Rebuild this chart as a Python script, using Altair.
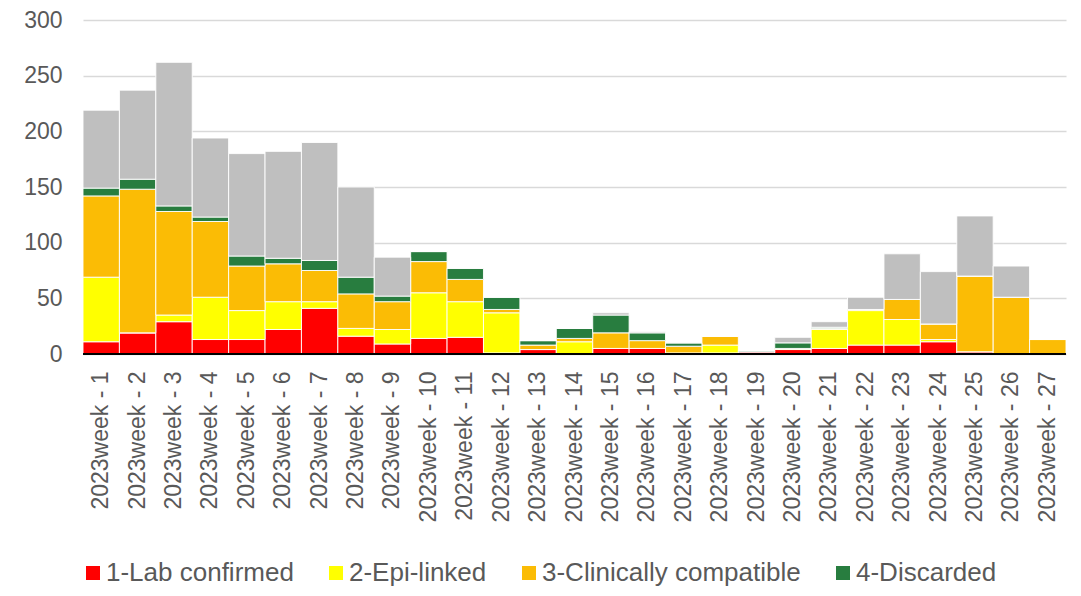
import altair as alt
import pandas as pd

weeks = [f"2023week - {i}" for i in range(1, 28)]
series = ["1-Lab confirmed", "2-Epi-linked", "3-Clinically compatible", "4-Discarded", "5-Pending"]
colors = ["#FF0000", "#FFFF00", "#FBBC05", "#287D3F", "#BFBFBF"]

red    = [11, 19, 29, 13, 13, 22, 41, 16, 9, 14, 15, 1, 4, 0, 5, 5, 0, 1, 2, 4, 5, 8, 8, 11, 2, 0, 0]
yellow = [58, 0, 6, 38, 26, 25, 6, 7, 13, 41, 32, 36, 0, 11, 0, 0, 1, 7, 0, 1, 17, 31, 23, 2, 0, 0, 0]
orange = [73, 129, 93, 68, 40, 34, 28, 31, 25, 28, 20, 3, 4, 3, 14, 7, 6, 8, 0, 0, 1, 1, 18, 14, 68, 51, 13]
green  = [7, 9, 5, 4, 9, 5, 9, 15, 5, 9, 10, 11, 4, 9, 16, 7, 3, 0, 1, 5, 1, 0, 0, 0, 0, 0, 0]
gray   = [70, 80, 129, 71, 92, 96, 106, 81, 35, 0, 0, 0, 0, 0, 2, 1, 0, 0, 0, 5, 5, 11, 41, 47, 54, 28, 0]

rows = []
for si, (name, vals) in enumerate(zip(series, [red, yellow, orange, green, gray])):
    for w, v in zip(weeks, vals):
        rows.append({"week": w, "series": name, "order": si, "value": v})
df = pd.DataFrame(rows)

FONT = "Liberation Sans"

bars = alt.Chart(df).mark_bar(stroke="white", strokeWidth=1, strokeOpacity=0.9).encode(
    x=alt.X("week:N", sort=weeks, title=None,
            scale=alt.Scale(paddingInner=0, paddingOuter=0),
            axis=alt.Axis(labelAngle=-90, labelFontSize=23, labelColor="#595959",
                          labelFont=FONT, ticks=False, domain=False, labelPadding=17,
                          grid=False)),
    y=alt.Y("value:Q", stack="zero", title=None,
            scale=alt.Scale(domain=[0, 300], nice=False),
            axis=alt.Axis(values=[0, 50, 100, 150, 200, 250, 300], labelFontSize=23,
                          labelColor="#595959", labelFont=FONT, ticks=False, domain=False,
                          labelPadding=21, gridColor="#D9D9D9", gridWidth=1.3)),
    color=alt.Color("series:N", sort=series,
                    scale=alt.Scale(domain=series, range=colors),
                    legend=alt.Legend(values=series[:4], title=None, orient="none",
                                      direction="horizontal", legendX=-3, legendY=540,
                                      symbolType="square", symbolSize=196,
                                      symbolStrokeWidth=0, symbolOpacity=1,
                                      labelFontSize=26, labelFont=FONT, labelLimit=0,
                                      labelColor="#595959", labelOffset=0,
                                      columnPadding=29, padding=0)),
    order=alt.Order("order:Q", sort="ascending"),
)

zero = alt.Chart(pd.DataFrame({"y": [0]})).mark_rule(color="black", strokeWidth=2).encode(
    y="y:Q"
)

chart = alt.layer(bars, zero).properties(
    width=983, height=334,
    background="white",
    autosize=alt.AutoSizeParams(type="none"),
    padding={"left": 75, "top": 12, "right": 7, "bottom": 234},
).configure_view(stroke=None)

chart.save("out.html", embed_options={"renderer": "svg", "actions": False})
